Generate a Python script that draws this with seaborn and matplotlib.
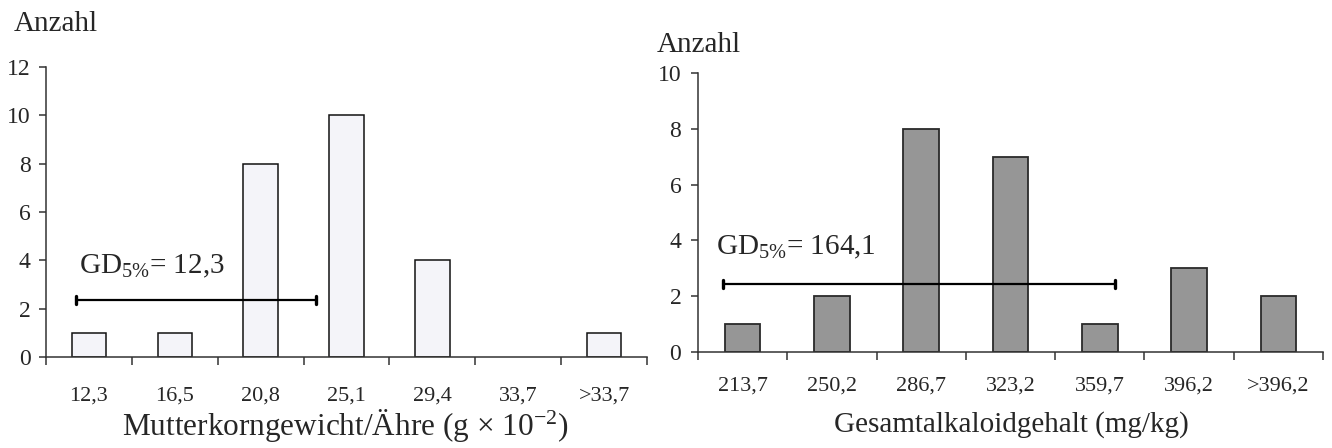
import matplotlib
matplotlib.use("Agg")
import matplotlib.pyplot as plt
import seaborn as sns
import pandas as pd

sns.set_theme(style="white")
plt.rcParams['font.family'] = ['Liberation Serif', 'DejaVu Serif']
plt.rcParams['mathtext.fontset'] = 'custom'
plt.rcParams['mathtext.rm'] = 'Liberation Serif'
plt.rcParams['mathtext.it'] = 'Liberation Serif:italic'
plt.rcParams['mathtext.default'] = 'regular'

# Data
left_categories = ["12,3", "16,5", "20,8", "25,1", "29,4", "33,7", ">33,7"]
left_counts = [1, 1, 8, 10, 4, 0, 1]
right_categories = ["213,7", "250,2", "286,7", "323,2", "359,7", "396,2", ">396,2"]
right_counts = [1, 2, 8, 7, 1, 3, 2]
left_gd = {"label": "GD$_{5\\%}$= 12,3", "x0": -0.15, "x1": 2.65, "y": 2.36}
right_gd = {"label": "GD$_{5\\%}$= 164,1", "x0": -0.22, "x1": 4.17, "y": 2.44}

fig = plt.figure(figsize=(13.32, 4.48), dpi=100)
ax1 = fig.add_axes([46 / 1332, 91 / 448, 601 / 1332, 290 / 448])
ax2 = fig.add_axes([698 / 1332, 96 / 448, 625 / 1332, 279 / 448])

df1 = pd.DataFrame({"cat": left_categories, "n": left_counts})
df2 = pd.DataFrame({"cat": right_categories, "n": right_counts})

sns.barplot(data=df1, x="cat", y="n", ax=ax1, color="#f4f4f9", width=0.40,
            edgecolor="#111111", linewidth=1.1, saturation=1)
sns.barplot(data=df2, x="cat", y="n", ax=ax2, color="#969696", width=0.40,
            edgecolor="#2a2a2a", linewidth=1.3, saturation=1)

for p in ax1.patches:
    if p.get_height() == 0:
        p.set_linewidth(0)

def style(ax, ymax, ystep, gd, xpad, ypad):
    ax.set_xlim(-0.5, 6.5)
    ax.set_ylim(0, ymax)
    ax.set_yticks(range(0, ymax + 1, ystep))
    for s in ["top", "right"]:
        ax.spines[s].set_visible(False)
    for s in ["left", "bottom"]:
        ax.spines[s].set_color("#333333")
        ax.spines[s].set_linewidth(1.1)
    ax.set_xlabel("")
    ax.set_ylabel("")
    ax.set_xticks([i - 0.5 for i in range(8)], minor=True)
    ax.tick_params(axis="x", which="major", length=0, pad=xpad, labelsize=16)
    ax.tick_params(axis="x", which="minor", length=6, width=1.1, color="#333333", direction="out", bottom=True)
    ax.tick_params(axis="y", which="major", length=5, width=1.1, color="#333333", direction="out", left=True, labelsize=17, pad=ypad)
    ax.plot([gd["x0"], gd["x1"]], [gd["y"], gd["y"]], color="black", lw=1.6)
    h = 0.18 * ymax / 12 * 290 / (ax.get_position().height * 448)
    for xv in (gd["x0"], gd["x1"]):
        ax.plot([xv, xv], [gd["y"] - h, gd["y"] + h], color="black", lw=2.4)

style(ax1, 12, 2, left_gd, 21, 6)
style(ax2, 10, 2, right_gd, 18, 7)

ax1.text(-0.11, 3.48, left_gd["label"], fontsize=21, ha="left", va="baseline")
ax2.text(-0.30, 3.51, right_gd["label"], fontsize=21, ha="left", va="baseline")

fig.text(14 / 1332, 1 - 31 / 448, "Anzahl", fontsize=21, ha="left", va="baseline")
fig.text(657 / 1332, 1 - 52 / 448, "Anzahl", fontsize=21, ha="left", va="baseline")
fig.text(345 / 1332, 1 - 425 / 448, "Mutterkorngewicht/Ähre (g × 10$^{-2}$)", fontsize=22.5, ha="center", va="center")
fig.text(1011 / 1332, 1 - 425 / 448, "Gesamtalkaloidgehalt (mg/kg)", fontsize=21, ha="center", va="center")

fig.savefig("out.png", dpi=100)
